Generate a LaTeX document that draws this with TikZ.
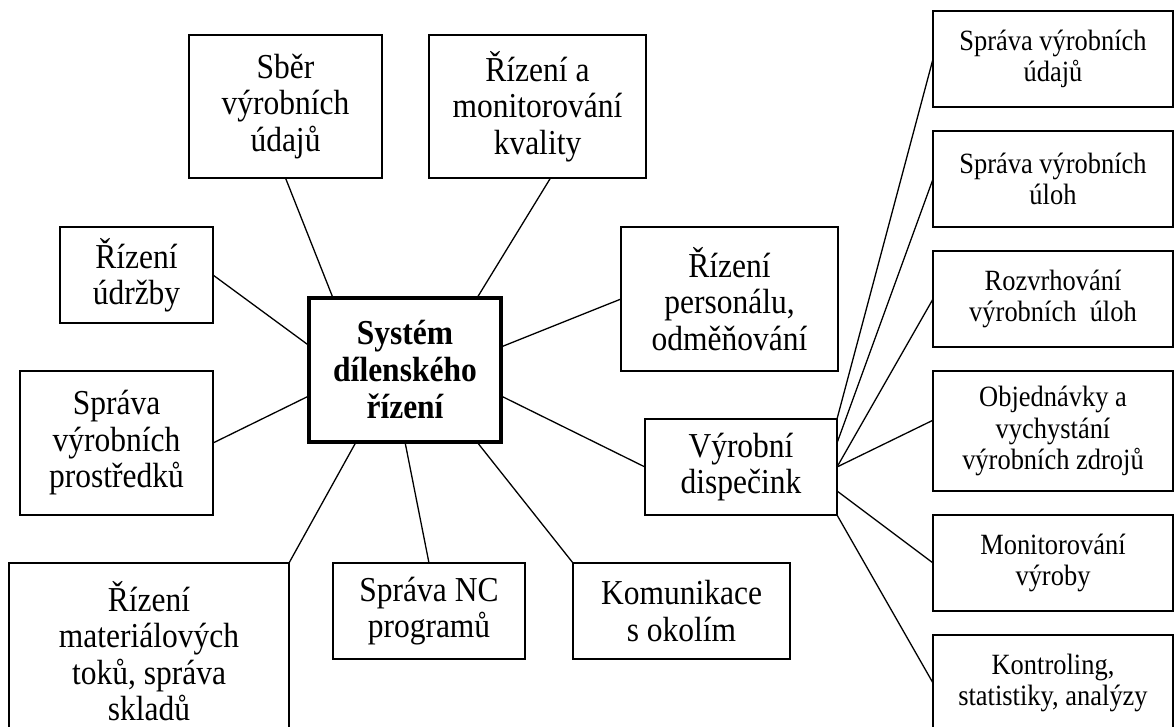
\documentclass[tikz,border=0pt]{standalone}
\usepackage{fontspec}
\setmainfont{Liberation Serif}[FakeStretch=0.9]
\usetikzlibrary{calc}
\begin{document}
\begin{tikzpicture}[x=1pt,y=-1pt,
  box/.style={draw, line width=1.3pt, align=center, inner sep=0pt, outer sep=0pt,
    font=\fontsize{35}{36.5}\selectfont},
  subbox/.style={box, minimum width=240pt, minimum height=96pt,
    font=\fontsize{29.4}{31.5}\selectfont},
  hub/.style={draw, line width=3.5pt, align=center, inner sep=0pt, outer sep=0pt,
    font=\fontsize{35}{37}\selectfont\bfseries},
  link/.style={line width=1.3pt}]

\useasboundingbox (0,0) rectangle (1175,727);
\clip (0,0) rectangle (1175,727);

% central system
\node[hub, minimum width=192pt, minimum height=144pt] (sys) at (405,370)
  {Systém\\dílenského\\řízení};

% modules around the centre
\node[box, minimum width=193pt, minimum height=143pt] (sber) at (285.5,106.5)
  {Sběr\\výrobních\\údajů};
\node[box, minimum width=217pt, minimum height=143pt] (kval) at (537.5,106.5)
  {Řízení a\\monitorování\\kvality};
\node[box, minimum width=153pt, minimum height=96pt] (udrz) at (136.5,275)
  {Řízení\\údržby};
\node[box, minimum width=217pt, minimum height=144pt] (pers) at (729.5,299)
  {Řízení\\personálu,\\odměňování};
\node[box, minimum width=193pt, minimum height=144pt] (prostr) at (116.5,443)
  {Správa\\výrobních\\prostředků};
\node[box, minimum width=192pt, minimum height=96pt] (disp) at (741,467)
  {Výrobní\\dispečink};
\node[box, minimum width=280pt, minimum height=176pt] (mat) at (149,651)
  {Řízení\\materiálových\\toků, správa\\skladů};
\node[box, minimum width=192pt, minimum height=96pt] (nc) at (429,611)
  {Správa NC\\programů};
\node[box, minimum width=217pt, minimum height=96pt] (kom) at (681.5,611)
  {Komunikace\\s okolím};

% dispatching sub-functions
\node[subbox] (r1) at (1053,59) {Správa výrobních\\údajů};
\node[subbox] (r2) at (1053,179) {Správa výrobních\\úloh};
\node[subbox] (r3) at (1053,299) {Rozvrhování\\výrobních\ \ úloh};
\node[subbox, minimum height=120pt] (r4) at (1053,431)
  {Objednávky a\\vychystání\\výrobních zdrojů};
\node[subbox] (r5) at (1053,563) {Monitorování\\výroby};
\node[subbox] (r6) at (1053,683) {Kontroling,\\statistiky, analýzy};

% links to the central system
\draw[link] (sber.south) -- ($(sys.north west)!0.125!(sys.north east)$);
\draw[link] ($(kval.south west)!0.56!(kval.south east)$) -- ($(sys.north west)!0.875!(sys.north east)$);
\draw[link] (udrz.east) -- ($(sys.north west)!0.33!(sys.south west)$);
\draw[link] (pers.west) -- ($(sys.north east)!0.34!(sys.south east)$);
\draw[link] (prostr.east) -- ($(sys.north west)!0.68!(sys.south west)$);
\draw[link] (disp.west) -- ($(sys.north east)!0.68!(sys.south east)$);
\draw[link] (mat.north east) -- ($(sys.south west)!0.245!(sys.south east)$);
\draw[link] (nc.north) -- (sys.south);
\draw[link] (kom.north west) -- ($(sys.south west)!0.875!(sys.south east)$);

% links from dispatching
\draw[link] (disp.north east) -- (r1.west);
\draw[link] ($(disp.north east)!0.25!(disp.south east)$) -- (r2.west);
\draw[link] (disp.east) -- (r3.west);
\draw[link] (disp.east) -- ($(r4.north west)!0.41!(r4.south west)$);
\draw[link] ($(disp.north east)!0.75!(disp.south east)$) -- (r5.west);
\draw[link] (disp.south east) -- (r6.west);
\end{tikzpicture}
\end{document}
